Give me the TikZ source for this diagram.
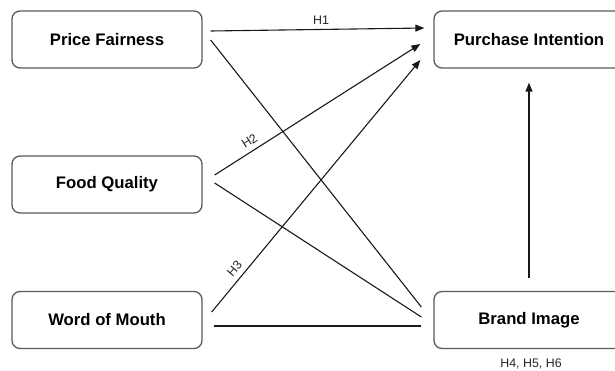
\documentclass[tikz,border=0pt]{standalone}
\usepackage{fontspec}
\setmainfont{Liberation Sans}
\usetikzlibrary{arrows.meta,calc}
\definecolor{boxline}{HTML}{5A5A5A}
\begin{document}
\begin{tikzpicture}[x=1pt,y=-1pt,
  factor/.style={draw=boxline,line width=1.3pt,rounded corners=8pt,
    minimum width=190pt,minimum height=57pt,inner sep=0pt,
    font=\fontsize{16.7}{19}\selectfont\bfseries},
  link/.style={line width=1.1pt,draw=black!90},
  arr/.style={link,-{Triangle[length=9pt,width=7pt]}},
  hlab/.style={font=\fontsize{12.4}{14}\selectfont,inner sep=0.5pt,text=black!85}]
\useasboundingbox (0,0) rectangle (615,370);
\clip (0,0) rectangle (615,370);
\node[factor] (pf) at (107,39.5) {Price Fairness};
\node[factor] (fq) at (107,184.5) {Food Quality};
\node[factor] (wom) at (107,320) {Word of Mouth};
\node[factor] (pi) at (529,39.5) {Purchase Intention};
\node[factor] (bi) at (529,320) {Brand Image};
\node[hlab] (h456) at (531,364) {H4, H5, H6};
% H1
\draw[arr] ($(pf.east)+(8,-8.5)$) coordinate (a1) -- ($(pi.west)+(-9,-11.5)$) coordinate (b1);
\node[hlab] (h1) at (321,20.5) {H1};
% PF -> BI
\draw[link] ($(pf.east)+(8,0.5)$) -- ($(bi.west)+(-12,-13)$);
% FQ -> PI (H2)
\draw[arr] ($(fq.east)+(12,-9.5)$) coordinate (a2) -- ($(pi.west)+(-13,4.5)$) coordinate (b2);
\node[hlab,rotate=32.5] (h2) at (249.5,141) {H2};
% FQ -> BI
\draw[link] ($(fq.east)+(12,-1.5)$) -- ($(bi.west)+(-12,-3)$);
% WoM -> PI (H3)
\draw[arr] ($(wom.east)+(9,-8)$) coordinate (a3) -- ($(pi.west)+(-13,20.5)$) coordinate (b3);
\node[hlab,rotate=50] (h3) at (234.5,268.5) {H3};
% WoM -> BI
\draw[link] ($(wom.east)+(11,6)$) -- ($(bi.west)+(-12,6)$);
% BI -> PI
\draw[arr] ($(bi.north)+(0,-13)$) -- ($(pi.south)+(0,14)$);
\end{tikzpicture}
\end{document}
